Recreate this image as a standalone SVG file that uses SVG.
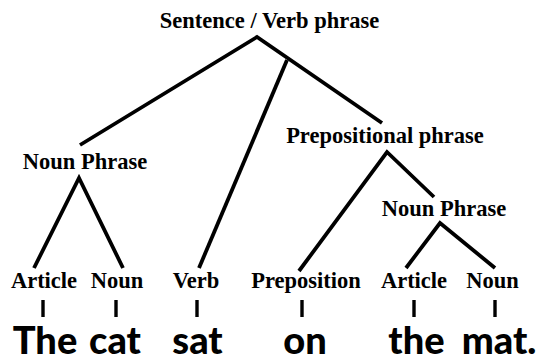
<svg xmlns="http://www.w3.org/2000/svg" width="542" height="360" viewBox="0 0 542 360">
<style>
.lbl{font-family:"Liberation Serif","Times New Roman",serif;font-weight:bold;font-size:22.5px;fill:#000;text-anchor:middle}
.word{font-family:Lato,"Open Sans",sans-serif;font-weight:900;font-size:38px;fill:#000;text-anchor:middle}
.edge{fill:none;stroke:#000;stroke-width:3.8;stroke-linejoin:miter;stroke-linecap:butt}
.tick{fill:none;stroke:#000;stroke-width:3.4}
</style>
<rect width="542" height="360" fill="#fff"/>
<g id="connectors">
<polyline class="edge" points="80,145 257,37 382,123"/>
<line class="edge" x1="287" y1="60" x2="199" y2="268"/>
<polyline class="edge" points="34,268 79,178 123,268"/>
<polyline class="edge" points="299,271 387,152 434,197"/>
<polyline class="edge" points="406,268 440,223 495,268"/>
<line class="tick" x1="43" y1="300" x2="43" y2="317"/>
<line class="tick" x1="116" y1="300" x2="116" y2="317"/>
<line class="tick" x1="197" y1="300" x2="197" y2="317"/>
<line class="tick" x1="302" y1="300" x2="302" y2="317"/>
<line class="tick" x1="414" y1="300" x2="414" y2="317"/>
<line class="tick" x1="495" y1="300" x2="495" y2="317"/>
</g>
<g id="sentence"><text class="lbl" x="269.5" y="28">Sentence / Verb phrase</text></g>
<g id="np1"><text class="lbl" x="85" y="169">Noun Phrase</text></g>
<g id="pp"><text class="lbl" x="385" y="143">Prepositional phrase</text></g>
<g id="np2"><text class="lbl" x="444" y="216">Noun Phrase</text></g>
<g id="article1"><text class="lbl" x="44" y="288">Article</text></g>
<g id="noun1"><text class="lbl" x="117" y="288">Noun</text></g>
<g id="verb"><text class="lbl" x="196" y="288">Verb</text></g>
<g id="preposition"><text class="lbl" x="306" y="288">Preposition</text></g>
<g id="article2"><text class="lbl" x="414" y="288">Article</text></g>
<g id="noun2"><text class="lbl" x="492.5" y="288">Noun</text></g>
<g id="w-the"><text class="word" x="45" y="354">The</text></g>
<g id="w-cat"><text class="word" x="115" y="354">cat</text></g>
<g id="w-sat"><text class="word" x="197.5" y="354">sat</text></g>
<g id="w-on"><text class="word" x="305" y="354">on</text></g>
<g id="w-the2"><text class="word" x="416.5" y="354">the</text></g>
<g id="w-mat"><text class="word" x="499" y="354">mat.</text></g>
</svg>
